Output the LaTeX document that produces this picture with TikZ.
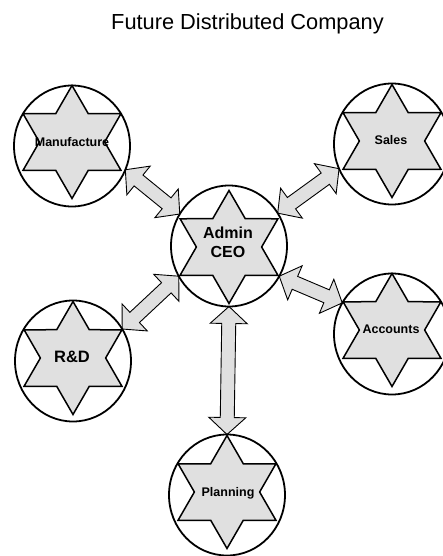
\documentclass[tikz,border=0pt]{standalone}
\usepackage{fontspec}
\setmainfont{Liberation Sans}
\usetikzlibrary{shapes.geometric,calc,backgrounds}
\tikzset{
  hexstar/.style={star, star points=6, star point ratio=1.732, minimum size=113pt,
    inner sep=0pt, draw=black, line width=1.5pt, fill=black!12},
  unitring/.style={ellipse, minimum width=116pt, minimum height=121pt, inner sep=0pt, outer sep=0pt,
    draw=black, line width=1.8pt},
  smalllabel/.style={font=\bfseries\fontsize{12.5}{14}\selectfont, inner sep=0pt},
  biglabel/.style={font=\bfseries\fontsize{16}{19}\selectfont, inner sep=0pt, align=center},
  barrow/.style={draw=black, line width=0.9pt, fill=black!12, line join=miter},
}
\newcommand{\hl}{17pt}
\newcommand{\hw}{18.5pt}
\newcommand{\sw}{7pt}
\newcommand{\blockarrow}[2]{%
  \filldraw[barrow] (#1)
    -- ($(#1)!\hl!(#2)!\hw!90:(#2)$)
    -- ($(#1)!\hl!(#2)!\sw!90:(#2)$)
    -- ($(#2)!\hl!(#1)!\sw!-90:(#1)$)
    -- ($(#2)!\hl!(#1)!\hw!-90:(#1)$)
    -- (#2)
    -- ($(#2)!\hl!(#1)!\hw!90:(#1)$)
    -- ($(#2)!\hl!(#1)!\sw!90:(#1)$)
    -- ($(#1)!\hl!(#2)!\sw!-90:(#2)$)
    -- ($(#1)!\hl!(#2)!\hw!-90:(#2)$)
    -- cycle;}
\begin{document}
\begin{tikzpicture}[x=1pt,y=-1pt]
\useasboundingbox (0,0) rectangle (442,556);

\node[font=\fontsize{21.8}{24}\selectfont, anchor=base, inner sep=0pt] (title) at (247.5,29.5) {Future Distributed Company};

% rings
\node[unitring] (man) at (72,146) {};
\node[unitring] (sal) at (392,144) {};
\node[unitring] (adm) at (229,246) {};
\node[unitring] (rnd) at (73,361) {};
\node[unitring] (acc) at (392,334) {};
\node[unitring] (pla) at (227,495) {};

% stars
\node[hexstar] (manS) at (72,142) {};
\node[hexstar] (salS) at (392,141) {};
\node[hexstar] (admS) at (229,247) {};
\node[hexstar] (rndS) at (73,358) {};
\node[hexstar] (accS) at (392,330) {};
\node[hexstar] (plaS) at (227,492) {};

% labels
\node[smalllabel] (manT) at (72,142) {Manufacture};
\node[smalllabel] (salT) at (391,140) {Sales};
\node[biglabel] (admT) at (228,242) {Admin\\CEO};
\node[font=\bfseries\fontsize{16.5}{19}\selectfont, inner sep=0pt] (rndT) at (72,357) {R\&D};
\node[smalllabel] (accT) at (391,329) {Accounts};
\node[smalllabel] (plaT) at (228,493) {Planning};

% connectors
\begin{scope}[on background layer]
\blockarrow{man.-24.7}{adm.147.7}
\blockarrow{sal.-155.7}{adm.34}
\blockarrow{rnd.33.4}{adm.-149.4}
\blockarrow{acc.148.5}{adm.-31.8}
\blockarrow{pla.north}{adm.south}
\end{scope}
\end{tikzpicture}
\end{document}
